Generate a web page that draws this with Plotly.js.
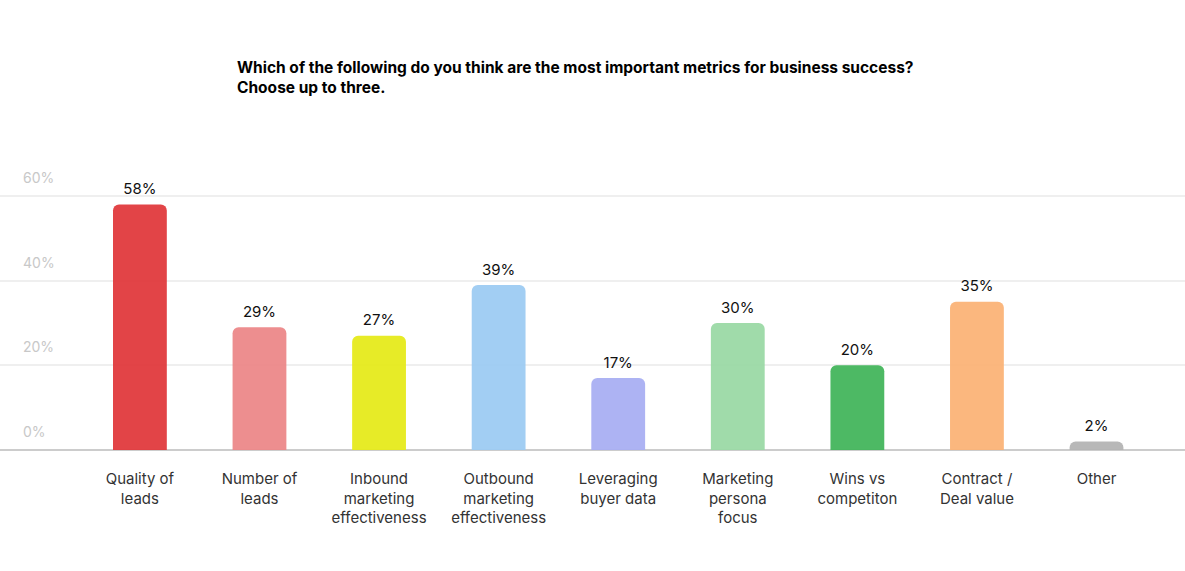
<!DOCTYPE html>
<html>
<head>
<meta charset="utf-8">
<script src="https://cdn.plot.ly/plotly-3.0.1.min.js"></script>
<style>html,body{margin:0;padding:0;background:#fff;}#chart{width:1185px;height:571px;}</style>
</head>
<body>
<div id="chart"></div>
<script>
const categories = ["Quality of<br>leads", "Number of<br>leads", "Inbound<br>marketing<br>effectiveness", "Outbound<br>marketing<br>effectiveness", "Leveraging<br>buyer data", "Marketing<br>persona<br>focus", "Wins vs<br>competiton", "Contract /<br>Deal value", "Other"];
const values = [58, 29, 27, 39, 17, 30, 20, 35, 2];
const barColors = ["#E0383C", "#EC8788", "#E6EA1A", "#9CCBF2", "#A8AEF2", "#9AD9A5", "#42B55A", "#FBB276", "#B4B4B4"];
const tickVals = [0, 20, 40, 60];
const tickText = ["0%", "20%", "40%", "60%"];
const titleText = "<b>Which of the following do you think are the most important metrics for business success?<br>Choose up to three.</b>";

const xs = categories.map((c, i) => i);

const bars = {
  type: "bar",
  x: xs,
  y: values,
  marker: { color: barColors, opacity: 0.94, cornerradius: 6 },
  width: 0.45,
  hoverinfo: "skip"
};

const labels = {
  type: "scatter",
  mode: "markers+text",
  x: xs,
  y: values,
  marker: { size: 9, opacity: 0 },
  text: values.map(v => v + "%"),
  textposition: "top center",
  textfont: { family: "Inter, sans-serif", size: 15, color: "#111" },
  cliponaxis: false,
  hoverinfo: "skip"
};

const layout = {
  width: 1185, height: 571,
  margin: { l: 0, r: 0, t: 130, b: 121 },
  paper_bgcolor: "#fff", plot_bgcolor: "#fff",
  font: { family: "Inter, sans-serif", color: "#333" },
  title: {
    text: titleText,
    xref: "container", yref: "container",
    x: 237 / 1185, xanchor: "left",
    y: 1 - 73 / 571, yanchor: "middle",
    font: { family: "Inter, sans-serif", size: 15.5, color: "#000" }
  },
  showlegend: false,
  xaxis: {
    range: [-1.17, 8.74],
    tickmode: "array",
    tickvals: xs,
    ticktext: categories,
    tickfont: { family: "Inter, sans-serif", size: 15, color: "#333" },
    showgrid: false,
    zeroline: false,
    showline: false,
    ticks: "",
    ticklabelstandoff: 18,
    fixedrange: true
  },
  yaxis: {
    range: [0, 75.6],
    tickmode: "array",
    tickvals: tickVals,
    ticktext: tickText,
    tickfont: { family: "Inter, sans-serif", size: 14, color: "#c8c8c8" },
    ticklabelposition: "inside",
    ticklabelshift: -18,
    ticklabelstandoff: 20,
    showgrid: true,
    gridcolor: "#efefef",
    gridwidth: 2,
    zeroline: true,
    zerolinecolor: "#cccccc",
    zerolinewidth: 2,
    showline: false,
    ticks: "",
    fixedrange: true
  }
};

Plotly.newPlot("chart", [bars, labels], layout, { displayModeBar: false, staticPlot: true });
</script>
</body>
</html>
